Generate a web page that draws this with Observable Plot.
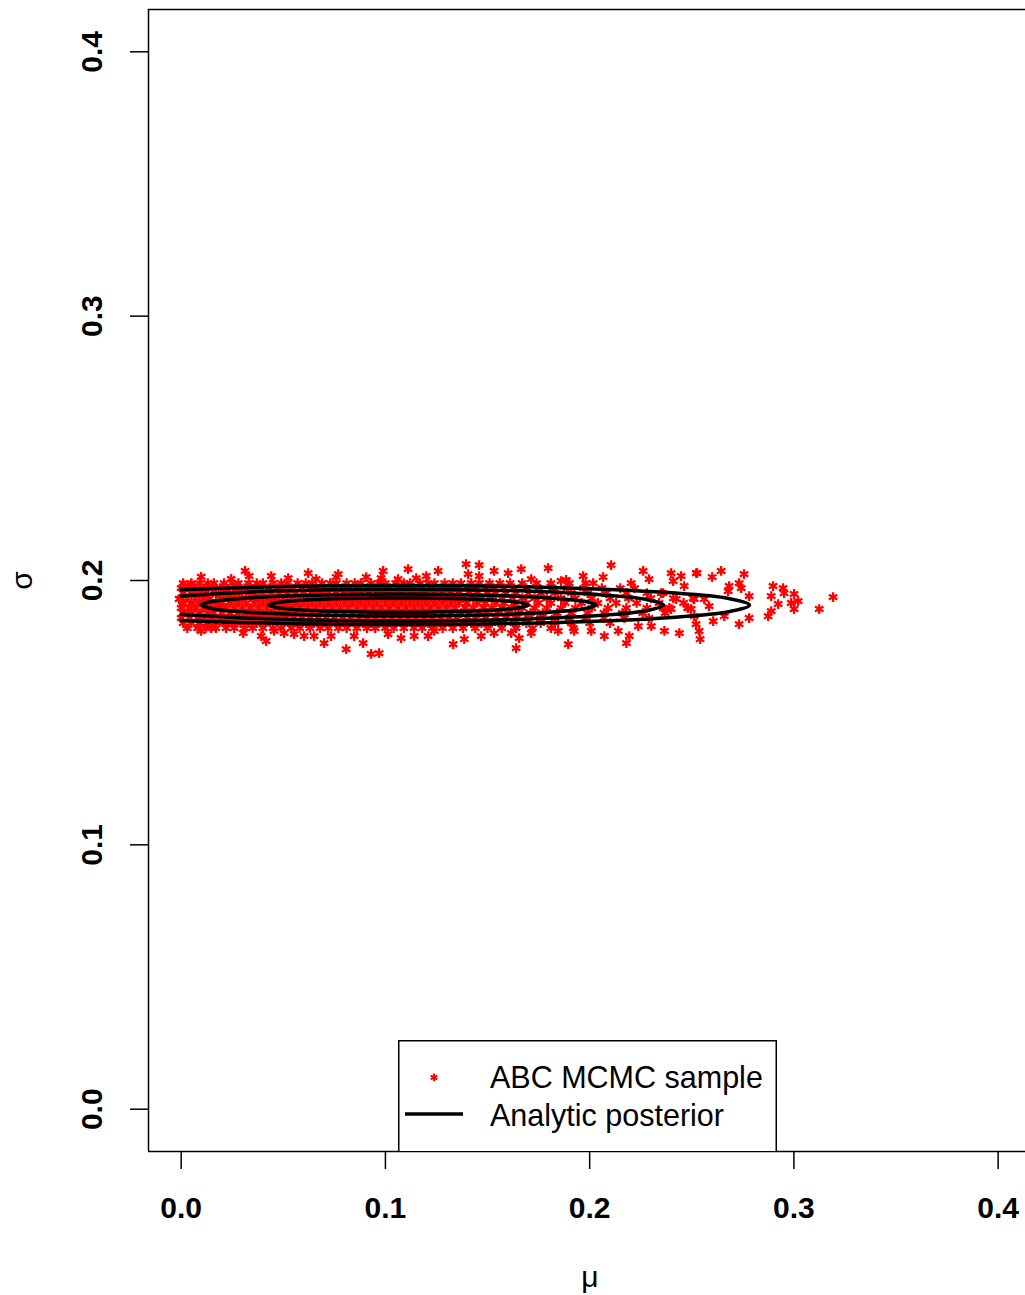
<!DOCTYPE html>
<html>
<head>
<meta charset="utf-8">
<script src="https://cdn.jsdelivr.net/npm/d3@7"></script>
<script src="https://cdn.jsdelivr.net/npm/@observablehq/plot@0.6"></script>
<style>
  html, body { margin: 0; padding: 0; background: #fff; overflow: hidden; }
  #wrap { position: relative; width: 1025px; height: 1295px; }
  #legend { position: absolute; left: 398px; top: 1040px; }
  svg { display: block; }
</style>
</head>
<body>
<div id="wrap"><div id="chart"></div><div id="legend"></div></div>
<script>
// ---------- axis ticks & labels ----------
const xTicks = [0.0, 0.1, 0.2, 0.3, 0.4];
const yTicks = [0.0, 0.1, 0.2, 0.3, 0.4];
const xTitle = "μ";
const yTitle = "σ";
const legendLabels = ["ABC MCMC sample", "Analytic posterior"];

// ---------- ABC MCMC sample: dense core, one sigma level per row ----------
const coreSigma = [0.1990, 0.1971, 0.1952, 0.1933, 0.1915, 0.1896, 0.1877, 0.1858, 0.1839, 0.1820];
const coreMu = [
  [0.001,0.005,0.009,0.013,0.016,0.021,0.025,0.028,0.033,0.037,0.040,0.045,0.049,0.052,0.057,0.061,0.064,0.069,0.073,0.076,0.081,0.085,0.088,0.093,0.097,0.100,0.105,0.109,0.112,0.117,0.121,0.124,0.129,0.133,0.137,0.142,0.146,0.151,0.156,0.161,0.167,0.174,0.181,0.190,0.198],
  [0.000,0.004,0.007,0.011,0.015,0.019,0.022,0.027,0.031,0.034,0.038,0.043,0.047,0.050,0.054,0.059,0.063,0.066,0.070,0.075,0.079,0.082,0.086,0.091,0.095,0.098,0.102,0.107,0.111,0.114,0.118,0.123,0.127,0.131,0.135,0.140,0.144,0.149,0.153,0.158,0.163,0.169,0.175,0.182,0.189,0.197,0.206,0.215,0.222],
  [0.001,0.005,0.009,0.012,0.017,0.021,0.024,0.028,0.033,0.036,0.040,0.044,0.048,0.052,0.056,0.060,0.064,0.068,0.072,0.076,0.080,0.084,0.088,0.092,0.096,0.100,0.104,0.108,0.112,0.116,0.120,0.124,0.128,0.132,0.136,0.141,0.145,0.150,0.154,0.159,0.164,0.170,0.176,0.183,0.191,0.199,0.208,0.218,0.228,0.236],
  [0.000,0.003,0.007,0.011,0.014,0.019,0.023,0.026,0.030,0.035,0.038,0.042,0.046,0.050,0.054,0.058,0.062,0.066,0.070,0.074,0.078,0.082,0.086,0.090,0.094,0.098,0.102,0.106,0.110,0.114,0.118,0.122,0.126,0.130,0.134,0.138,0.143,0.147,0.152,0.157,0.162,0.167,0.173,0.179,0.186,0.193,0.201,0.210,0.219,0.230,0.241],
  [0.001,0.005,0.009,0.013,0.017,0.020,0.024,0.028,0.032,0.036,0.040,0.044,0.048,0.052,0.056,0.060,0.064,0.068,0.072,0.076,0.080,0.084,0.088,0.092,0.096,0.100,0.104,0.108,0.112,0.116,0.120,0.124,0.128,0.132,0.136,0.140,0.145,0.149,0.154,0.158,0.163,0.169,0.175,0.181,0.188,0.196,0.204,0.213,0.223,0.234,0.246],
  [0.000,0.004,0.007,0.011,0.015,0.019,0.022,0.026,0.030,0.034,0.038,0.042,0.046,0.050,0.054,0.058,0.062,0.066,0.070,0.074,0.078,0.082,0.086,0.090,0.094,0.098,0.102,0.106,0.110,0.114,0.118,0.122,0.126,0.130,0.134,0.139,0.143,0.148,0.152,0.157,0.162,0.167,0.173,0.179,0.186,0.193,0.201,0.209,0.218,0.228,0.239,0.248],
  [0.001,0.005,0.009,0.013,0.016,0.020,0.024,0.028,0.032,0.036,0.040,0.044,0.048,0.052,0.056,0.060,0.064,0.068,0.072,0.076,0.080,0.084,0.088,0.092,0.096,0.100,0.104,0.108,0.112,0.116,0.120,0.124,0.128,0.132,0.137,0.141,0.146,0.150,0.155,0.160,0.165,0.171,0.177,0.184,0.191,0.199,0.207,0.216,0.226,0.237],
  [0.000,0.004,0.008,0.011,0.015,0.019,0.023,0.027,0.031,0.035,0.039,0.043,0.047,0.051,0.055,0.059,0.063,0.067,0.071,0.075,0.079,0.083,0.087,0.091,0.095,0.099,0.103,0.107,0.111,0.115,0.119,0.123,0.127,0.131,0.135,0.140,0.144,0.149,0.154,0.159,0.164,0.170,0.176,0.183,0.190,0.198,0.207,0.217,0.229],
  [0.001,0.005,0.009,0.013,0.017,0.021,0.025,0.029,0.033,0.037,0.041,0.045,0.049,0.053,0.057,0.061,0.065,0.069,0.073,0.077,0.081,0.085,0.089,0.093,0.097,0.101,0.105,0.109,0.113,0.117,0.121,0.125,0.129,0.133,0.138,0.142,0.147,0.152,0.157,0.163,0.169,0.176,0.183,0.191,0.200,0.210],
  [0.003,0.008,0.012,0.017,0.022,0.026,0.031,0.035,0.040,0.045,0.049,0.054,0.058,0.063,0.068,0.072,0.077,0.081,0.086,0.091,0.095,0.100,0.104,0.109,0.114,0.118,0.123,0.128,0.133,0.138,0.144,0.150,0.157,0.164,0.172,0.181,0.192]
];

// ---------- ABC MCMC sample: scattered fringe and right tail ----------
const fringeMu = [
  0.0098,0.0245,0.0313,0.0333,0.0441,0.0524,0.0622,0.0015,0.0049,-0.0010,0.0015,
  0.0661,0.0759,0.0769,0.0906,0.0989,0.0979,0.1111,0.1062,0.1151,0.1200,0.1258,
  0.1395,0.1459,0.1405,0.1532,0.1601,0.1665,0.1797,0.1714,0.1860,0.1885,0.1459,
  0.2105,0.1968,0.2066,0.2262,0.2291,0.2399,0.2448,0.2522,0.2409,0.2017,0.2203,
  0.2463,0.2350,0.2424,0.2507,0.2399,0.2482,0.2360,0.2512,
  0.2526,0.2600,0.2644,0.2756,0.2683,0.2732,0.2742,0.2678,0.2781,0.2898,
  0.2947,0.2952,0.2889,0.3001,0.3021,0.2987,0.2923,0.2889,0.2874,0.3001,
  0.3124,0.3192,0.2781,0.2732,0.2605,0.2521,0.2536,0.2541,0.2659,0.2585,
  0.2561,0.2512,0.2497,
  0.0098,0.0147,0.0304,0.0392,0.0416,0.0455,0.0504,0.0553,0.0602,0.0651,
  0.0700,0.0734,0.0808,0.0847,0.0891,0.0930,0.0969,0.1013,0.1077,0.1141,
  0.1209,0.1239,0.1332,0.1386,0.1469,0.1532,0.1616,0.1640,0.1655,0.1714,
  0.1846,0.1895,0.1924,0.2008,0.2072,0.2140,0.2180,0.2194,0.2302,0.2366,
  0.2439,0.2238
];
const fringeSigma = [
  0.2014,0.2006,0.2036,0.2017,0.2017,0.2009,0.2028,0.1979,0.1986,0.1930,0.1884,
  0.2005,0.2013,0.2024,0.2013,0.2036,0.2009,0.2043,0.2005,0.2009,0.2017,0.2036,
  0.2062,0.2058,0.2024,0.2036,0.2028,0.2043,0.2047,0.2005,0.1998,0.2002,0.2017,
  0.2058,0.2017,0.2013,0.2036,0.2005,0.2028,0.2017,0.2028,0.1998,0.1990,0.1990,
  0.1979,0.1952,0.1930,0.1933,0.1892,0.1896,0.1896,0.1865,
  0.2028,0.2013,0.2036,0.2024,0.1979,0.1990,0.1971,0.1960,0.1941,0.1979,
  0.1971,0.1952,0.1941,0.1949,0.1922,0.1915,0.1911,0.1884,0.1865,0.1892,
  0.1892,0.1937,0.1858,0.1835,0.1846,0.1835,0.1809,0.1778,0.1865,0.1903,
  0.1930,0.1930,0.1892,
  0.1809,0.1820,0.1801,0.1790,0.1771,0.1809,0.1801,0.1797,0.1790,0.1790,
  0.1763,0.1790,0.1740,0.1790,0.1763,0.1722,0.1725,0.1797,0.1782,0.1790,
  0.1790,0.1809,0.1759,0.1778,0.1790,0.1801,0.1801,0.1744,0.1782,0.1801,
  0.1809,0.1759,0.1809,0.1809,0.1790,0.1809,0.1763,0.1790,0.1827,0.1809,
  0.1801,0.1827
];

// ---------- Analytic posterior contours ----------
const contour1Mu = [0.1701,0.1663,0.1552,0.1383,0.1176,0.0954,0.0747,0.0578,0.0467,0.0429,0.0467,0.0578,0.0747,0.0954,0.1176,0.1383,0.1552,0.1663];
const contour1Sigma = [0.1907,0.19163,0.19245,0.19306,0.19338,0.19338,0.19306,0.19245,0.19163,0.1907,0.18977,0.18895,0.18834,0.18802,0.18802,0.18834,0.18895,0.18977];
const contour2Mu = [0.2032,0.1974,0.1806,0.1549,0.1233,0.0897,0.0581,0.0324,0.0156,0.0098,0.0156,0.0324,0.0581,0.0897,0.1233,0.1549,0.1806,0.1974];
const contour2Sigma = [0.1907,0.19212,0.19337,0.1943,0.1948,0.1948,0.1943,0.19337,0.19212,0.1907,0.18928,0.18803,0.1871,0.1866,0.1866,0.1871,0.18803,0.18928];
const contour3Mu = [0,0.0071,0.0416,0.0839,0.1291,0.1714,0.2059,0.2284,0.2362,0.2284,0.2059,0.1714,0.1291,0.0839,0.0416,0.0071,0];
const contour3Sigma = [0.19413,0.19456,0.1959,0.19661,0.19661,0.1959,0.19456,0.19275,0.1907,0.18865,0.18684,0.1855,0.18479,0.18479,0.1855,0.18684,0.18727];
const contour4Mu = [0,0.0206,0.0766,0.1364,0.1924,0.2381,0.268,0.2783,0.268,0.2381,0.1924,0.1364,0.0766,0.0206,0];
const contour4Sigma = [0.19649,0.19709,0.19797,0.19797,0.19709,0.19545,0.19322,0.1907,0.18818,0.18595,0.18431,0.18343,0.18343,0.18431,0.18491];

// ---------- build tables ----------
const samples = [];
coreSigma.forEach((s, i) => coreMu[i].forEach(m => samples.push({mu: m, sigma: s})));
for (let i = 0; i < Math.min(fringeMu.length, fringeSigma.length); i++) {
  samples.push({mu: fringeMu[i], sigma: fringeSigma[i]});
}
const zip = (a, b) => a.map((v, i) => ({mu: v, sigma: b[i]}));
const closedContours = [zip(contour1Mu, contour1Sigma), zip(contour2Mu, contour2Sigma)];
const openContours = [zip(contour3Mu, contour3Sigma), zip(contour4Mu, contour4Sigma)];

const xDomain = [-0.016, 0.4134];
const yDomain = [-0.016, 0.416];
const fmt = d3.format(".1f");
const FONT = "'Liberation Sans', Arial, Helvetica, sans-serif";
const txt = {textAnchor: "middle", lineAnchor: "middle", fill: "#000", fontSize: 30};

const chart = Plot.plot({
  width: 1025,
  height: 1295,
  marginLeft: 148,
  marginRight: 0,
  marginTop: 9,
  marginBottom: 144,
  style: {background: "#fff", fontFamily: FONT, color: "#000"},
  x: {domain: xDomain},
  y: {domain: yDomain},
  marks: [
    Plot.dot(samples, {x: "mu", y: "sigma", symbol: "asterisk", r: 4.6, stroke: "#ff0000", strokeWidth: 2.3}),
    ...closedContours.map(c => Plot.line(c, {x: "mu", y: "sigma", curve: "catmull-rom-closed", stroke: "#000", strokeWidth: 3.5})),
    ...openContours.map(c => Plot.line(c, {x: "mu", y: "sigma", curve: "catmull-rom", stroke: "#000", strokeWidth: 3.5})),
    // plot box (left, top, bottom; right side lies beyond the page)
    Plot.ruleX([xDomain[0]], {stroke: "#000", strokeWidth: 1.5}),
    Plot.ruleY([yDomain[0], yDomain[1]], {stroke: "#000", strokeWidth: 1.5}),
    // ticks
    Plot.axisX({ticks: xTicks, tickSize: 18, fill: "none", strokeWidth: 1.5, label: null}),
    Plot.axisY({ticks: yTicks, tickSize: 18, fill: "none", strokeWidth: 1.5, label: null}),
    // tick labels
    Plot.text(xTicks, {...txt, x: d => d, text: d => fmt(d), frameAnchor: "bottom", dy: 57, fontWeight: "bold"}),
    Plot.text(yTicks, {...txt, y: d => d, text: d => fmt(d), frameAnchor: "left", dx: -56, rotate: -90, fontWeight: "bold"}),
    // axis titles
    Plot.text([xTitle], {...txt, text: d => d, frameAnchor: "bottom", dx: 3, dy: 126}),
    Plot.text([yTitle], {...txt, text: d => d, frameAnchor: "left", dx: -126, rotate: -90})
  ]
});
document.getElementById("chart").appendChild(chart);

// ---------- legend (inside the plot, bottom centre) ----------
const lw = 379, lh = 111;
const leg = d3.select("#legend").append("svg").attr("width", lw + 2).attr("height", lh + 1);
leg.append("rect").attr("x", 0.75).attr("y", 0.75).attr("width", lw - 1.5).attr("height", lh)
  .attr("fill", "#fff").attr("stroke", "#000").attr("stroke-width", 1.5);
leg.append("path").attr("d", d3.symbol(d3.symbolAsterisk, 40)())
  .attr("transform", "translate(36,37.5)").attr("stroke", "#ff0000").attr("stroke-width", 2).attr("fill", "none");
leg.append("line").attr("x1", 7).attr("x2", 65).attr("y1", 74).attr("y2", 74)
  .attr("stroke", "#000").attr("stroke-width", 3.5);
leg.selectAll("text.lab").data(legendLabels).join("text").attr("class", "lab")
  .attr("x", 92).attr("y", (d, i) => 48 + i * 37.5)
  .attr("font-family", FONT).attr("font-size", 30.5).attr("fill", "#000")
  .text(d => d);
</script>
</body>
</html>
